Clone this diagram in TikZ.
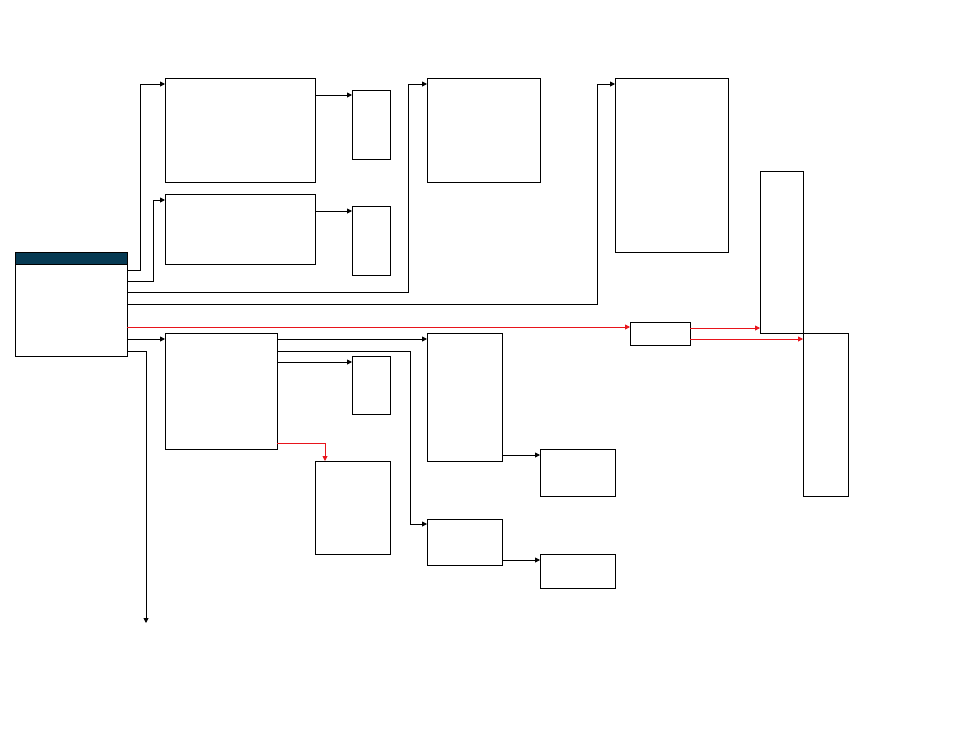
\documentclass[tikz,border=0pt]{standalone}
\usetikzlibrary{arrows.meta,positioning}
\definecolor{hdblue}{HTML}{063A53}
\definecolor{lnred}{HTML}{E8141B}
\tikzset{
  % plain empty table box, placed by its top left corner
  blk/.style    = {rectangle, draw=black, line width=0.9pt, inner sep=0pt,
                   outer sep=0pt, anchor=north west},
  arr/.style    = {-{Triangle[length=5pt,width=5pt]}, line width=0.9pt, black},
  redarr/.style = {-{Triangle[length=5pt,width=5pt]}, line width=0.9pt, lnred},
}

\begin{document}
\begin{tikzpicture}[x=1pt,y=-1pt]
\useasboundingbox (0,0) rectangle (954,737);
% source table
\node[blk, minimum width=112pt, minimum height=104pt] (src) at (15,252) {};
\node[blk, fill=hdblue, minimum width=112pt, minimum height=12pt] (srchead) at (15,252) {};
% upper row
\node[blk, minimum width=150pt, minimum height=104pt] (tblA)  at (165,78)  {};
\node[blk, minimum width=38pt,  minimum height=69pt]  (tblAx) at (352,90)  {};
\node[blk, minimum width=150pt, minimum height=70pt]  (tblB)  at (165,194) {};
\node[blk, minimum width=38pt,  minimum height=69pt]  (tblBx) at (352,206) {};
\node[blk, minimum width=113pt, minimum height=104pt] (tblC)  at (427,78)  {};
\node[blk, minimum width=113pt, minimum height=174pt] (tblD)  at (615,78)  {};
% right side
\node[blk, minimum width=60pt,  minimum height=23pt]  (hub)   at (630,322) {};
\node[blk, minimum width=43pt,  minimum height=162pt] (tblE)  at (760,171) {};
\node[blk, minimum width=45pt,  minimum height=163pt] (tblF)  at (803,333) {};
% lower row
\node[blk, minimum width=112pt, minimum height=116pt] (tblH)  at (165,333) {};
\node[blk, minimum width=38pt,  minimum height=58pt]  (tblHx) at (352,356) {};
\node[blk, minimum width=75pt,  minimum height=93pt]  (tblHy) at (315,461) {};
\node[blk, minimum width=75pt,  minimum height=128pt] (tblI)  at (427,333) {};
\node[blk, minimum width=75pt,  minimum height=47pt]  (tblIx) at (540,449) {};
\node[blk, minimum width=75pt,  minimum height=46pt]  (tblJ)  at (427,519) {};
\node[blk, minimum width=75pt,  minimum height=34pt]  (tblJx) at (540,554) {};
\coordinate (outlet) at (146,623);
% links out of the source table
\draw[arr] ([yshift=-18pt]src.north east) -- ++(13,0)  |- ([yshift=-6pt]tblA.north west);
\draw[arr] ([yshift=-29pt]src.north east) -- ++(26,0)  |- ([yshift=-6pt]tblB.north west);
\draw[arr] ([yshift=-40pt]src.north east) -- ++(281,0) |- ([yshift=-6pt]tblC.north west);
\draw[arr] ([yshift=-52pt]src.north east) -- ++(470,0) |- ([yshift=-6pt]tblD.north west);
\draw[redarr] ([yshift=-75pt]src.north east) -- ([yshift=-5pt]hub.north west);
\draw[arr] ([yshift=-87pt]src.north east) -- ([yshift=-6pt]tblH.north west);
\draw[arr] ([yshift=-99pt]src.north east) -| (outlet);
% second level
\draw[arr] ([yshift=-17pt]tblA.north east) -- ([yshift=-5pt]tblAx.north west);
\draw[arr] ([yshift=-17pt]tblB.north east) -- ([yshift=-5pt]tblBx.north west);
\draw[arr] ([yshift=-6pt]tblH.north east)  -- ([yshift=-6pt]tblI.north west);
\draw[arr] ([yshift=-18pt]tblH.north east) -- ++(133,0) |- ([yshift=-5pt]tblJ.north west);
\draw[arr] ([yshift=-29pt]tblH.north east) -- ([yshift=-6pt]tblHx.north west);
\draw[redarr] ([yshift=6pt]tblH.south east) -| ([xshift=10pt]tblHy.north west);
\draw[arr] ([yshift=6pt]tblI.south east) -- ([yshift=-6pt]tblIx.north west);
\draw[arr] ([yshift=5pt]tblJ.south east) -- ([yshift=-6pt]tblJx.north west);
\draw[redarr] ([yshift=-6pt]hub.north east) -- ([yshift=5pt]tblE.south west);
\draw[redarr] ([yshift=6pt]hub.south east) -- ([yshift=-6pt]tblF.north west);
\end{tikzpicture}
\end{document}
